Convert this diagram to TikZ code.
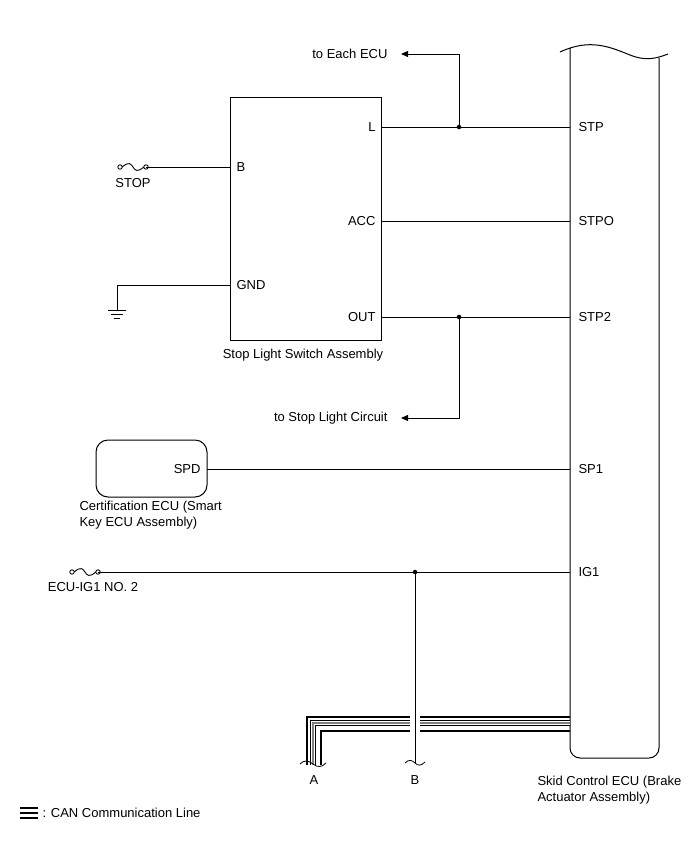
\documentclass[tikz,border=0pt]{standalone}
\usepackage{fontspec}
\setmainfont{Liberation Sans}
\usetikzlibrary{arrows.meta}
\begin{document}
\begin{tikzpicture}[x=1pt,y=-1pt,line width=1pt,
  lbl/.style={font=\fontsize{13}{15.5}\selectfont,inner sep=0pt},
  pin/.style={lbl,anchor=west},
  arr/.style={-{Triangle[length=7pt,width=6pt]}},
  dot/.style={circle,fill,inner sep=1.6pt},
  fuse/.pic={\draw[line width=0.9pt] (-13,0) circle (2.2) (13,0) circle (2.2);
    \draw[line width=0.9pt] (-10.8,0) .. controls (-4,-6) and (-2,-3) .. (0,0) .. controls (2,3) and (4,6) .. (10.8,0);}]
\useasboundingbox (0,0) rectangle (688,852);
% Skid control ECU
\draw[rounded corners=10pt] (570,48) -- (570,758) -- (659,758) -- (659,58);
\draw (560,52) .. controls (590,38) and (610,47) .. (630,55) .. controls (645,61) and (655,59) .. (668,54);
\foreach \y/\t/\n in {127/STP/p1,221/STPO/p2,317/STP2/p3,469/SP1/p4,572/IG1/p5}
  {\coordinate (\n) at (570,\y); \node[pin] at (578,\y) {\t};}
\node[lbl,align=left,anchor=north west] at (537,776) {Skid Control ECU (Brake\\Actuator Assembly)};
% Stop light switch
\draw (230,97) rectangle (381,340);
\node[lbl] at (303,355) {Stop Light Switch Assembly};
\node[lbl,anchor=east] at (376,127) {L};
\node[lbl,anchor=east] at (376,221) {ACC};
\node[lbl,anchor=east] at (376,317) {OUT};
\node[lbl,anchor=west] at (236,167) {B};
\node[lbl,anchor=west] at (236,285) {GND};
\coordinate (L) at (381,127); \coordinate (A) at (381,221); \coordinate (O) at (381,317);
\node[dot] (j1) at (459,127) {}; \node[dot] (j2) at (459,317) {};
\draw (L) -- (p1); \draw (A) -- (p2); \draw (O) -- (p3);
\coordinate (t1) at (401,54); \coordinate (t2) at (401,418);
\draw[arr] (j1.center) -- (459,54) -- (t1);
\draw[arr] (j2.center) -- (459,418) -- (t2);
\node[lbl,anchor=east] at (388,54) {to Each ECU};
\node[lbl,anchor=east] at (388,418) {to Stop Light Circuit};
% STOP fuse
\pic at (133,167) {fuse};
\draw (146,167) -- (230,167);
\node[lbl] at (133,183) {STOP};
% GND
\draw (230,285) -- (117,285) -- (117,310);
\draw (108,310) -- (126,310) (111,314) -- (123,314) (114,318) -- (120,318);
% Certification ECU
\draw[rounded corners=12pt] (96,440) rectangle (207,497);
\node[lbl,anchor=east] at (201,469) {SPD};
\draw (207,469) -- (p4);
\node[lbl,align=left,anchor=north west] at (79,501) {Certification ECU (Smart\\Key ECU Assembly)};
% IG1
\pic at (85,572) {fuse};
\node[lbl] at (93,587) {ECU-IG1 NO. 2};
\node[dot] (j3) at (415,572) {};
\draw (98,572) -- (p5);
\draw (j3.center) -- (415,763);
\draw[line width=0.8pt] (405,763) .. controls (409,759) and (412,760) .. (415,763) .. controls (418,766) and (421,766) .. (425,762);
\node[lbl] at (415,780) {B};
% CAN lines
\draw[line width=5.5pt,black] (570,723) -- (313,723) -- (313,765);
\draw[line width=3.5pt,white] (570,723) -- (313,723) -- (313,765);
\draw[line width=1.2pt,gray] (570,723) -- (313,723) -- (313,765);
\draw[line width=2pt] (570,731) -- (321,731) -- (321,765);
\draw[line width=2pt] (570,716.5) -- (307,716.5) -- (307,765);
\fill[white] (410,712) rectangle (420,735);
\draw (415,700) -- (415,740);
\draw[line width=0.8pt] (300,764) .. controls (304,760) and (308,760) .. (313,764) .. controls (318,768) and (322,767) .. (326,763);
\node[lbl] at (314,780) {A};
% legend
\draw[line width=1.2pt] (20,808) -- (38,808) (20,813) -- (38,813) (20,818) -- (38,818);
\node[lbl,anchor=west] at (42,813) {: CAN Communication Line};
\end{tikzpicture}
\end{document}
